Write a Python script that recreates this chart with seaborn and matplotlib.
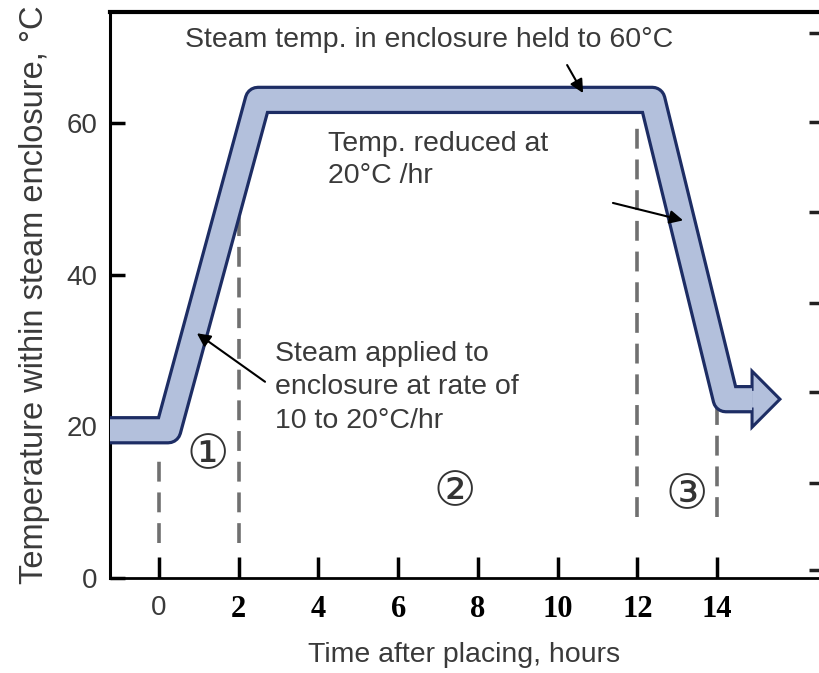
import matplotlib
matplotlib.use('Agg')
import matplotlib.pyplot as plt
import matplotlib.patheffects as pe
from matplotlib.patches import FancyArrow
import pandas as pd
import seaborn as sns

# ---- data ----
hours = [-1.5, 0.23, 2.48, 12.38, 14.22, 14.88]
temps = [19.5, 19.5, 63.1, 63.1, 23.6, 23.6]
arrow_tip_hour = 15.58
x_ticks = [0, 2, 4, 6, 8, 10, 12, 14]
y_ticks = [0, 20, 40, 60]
right_ticks = [1.1, 12.5, 24.5, 36.3, 48.3, 60.2, 71.9]
phase_hours = [0, 2, 12, 14]
phase_top = [16.2, 50.3, 59.5, 22.5]
phase_bottom = [4.6, 4.6, 8.0, 8.0]
phase_labels = ['①', '②', '③']
phase_label_x = [1.23, 7.43, 13.25]
phase_label_y = [16.2, 11.3, 10.9]

FILL = '#b3c0dc'
EDGE = '#1d2d64'
TXT = '#3a3a3a'

sns.set_theme(style='white')
plt.rcParams['font.family'] = ['Liberation Sans', 'DejaVu Sans']

fig = plt.figure(figsize=(8.19, 6.73), dpi=100)
ax = fig.add_axes([110 / 819, 95 / 673, 709 / 819, 566 / 673])
ax.set_xlim(-1.23, 16.56)
ax.set_ylim(0, 74.7)

# dashed phase boundaries
for h, lo, hi in zip(phase_hours, phase_bottom, phase_top):
    ax.plot([h, h], [lo, hi], color='#707070', lw=2.6, dashes=(5.5, 3.0), zorder=2)

# main temperature band
df = pd.DataFrame({'hours': hours, 'temp': temps})
sns.lineplot(data=df, x='hours', y='temp', ax=ax, sort=False, color=FILL,
             linewidth=15.8, zorder=4)
band = ax.lines[-1]
band.set_solid_joinstyle('round')
band.set_solid_capstyle('butt')
band.set_path_effects([pe.Stroke(linewidth=20.4, foreground=EDGE), pe.Normal()])

# arrow head at the end of the band
tail_start = hours[-1] - 0.2
ax.add_patch(FancyArrow(tail_start, temps[-1], arrow_tip_hour - tail_start, 0,
                        width=2.6, head_width=7.4, head_length=0.70,
                        length_includes_head=True, fc=FILL, ec=EDGE, lw=2.2,
                        zorder=3))

# phase labels
for lab, x, y in zip(phase_labels, phase_label_x, phase_label_y):
    ax.text(x, y, lab, ha='center', va='center', fontsize=34, color='#333333',
            family=['DejaVu Sans', 'Noto Sans CJK SC'], zorder=5)

# annotations
ap = dict(arrowstyle='-|>', color='black', lw=1.5, mutation_scale=20,
          shrinkA=0, shrinkB=0)
ax.text(0.65, 71.0, 'Steam temp. in enclosure held to 60°C', ha='left',
        va='center', fontsize=20.5, color=TXT)
ax.annotate('', xy=(10.64, 64.0), xytext=(10.24, 67.7), arrowprops=ap, zorder=6)

ax.text(4.24, 59.0, 'Temp. reduced at\n20°C /hr', ha='left', va='top',
        fontsize=20.5, color=TXT, linespacing=1.3)
ax.annotate('', xy=(13.15, 47.2), xytext=(11.39, 49.5), arrowprops=ap, zorder=6)

ax.text(2.91, 31.3, 'Steam applied to\nenclosure at rate of\n10 to 20°C/hr',
        ha='left', va='top', fontsize=20.5, color=TXT, linespacing=1.37)
ax.annotate('', xy=(0.95, 32.3), xytext=(2.66, 25.9), arrowprops=ap, zorder=6)

# axes styling
ax.set_xticks(x_ticks)
ax.set_xticklabels([str(v) for v in x_ticks])
ax.set_yticks(y_ticks)
ax.set_yticklabels([str(v) for v in y_ticks])
ax.tick_params(axis='x', direction='in', length=15, width=2.5, color='black',
               pad=12, labelsize=20, labelcolor=TXT, bottom=True)
ax.tick_params(axis='y', direction='in', length=11, width=2.5, color='black',
               pad=9, labelsize=20, labelcolor=TXT, left=True)
for lab in ax.get_xticklabels()[1:]:
    lab.set_fontfamily('Liberation Serif')
    lab.set_fontweight('bold')
    lab.set_color('black')
    lab.set_fontsize(22)

ax.set_xlabel('Time after placing, hours', fontsize=20.5, color=TXT, labelpad=13)
ax.set_ylabel('Temperature within steam enclosure, °C', fontsize=23.5, color=TXT,
              labelpad=12)

for s in ['left', 'bottom', 'top']:
    ax.spines[s].set_visible(True)
    ax.spines[s].set_color('black')
ax.spines['left'].set_linewidth(2.2)
ax.spines['bottom'].set_linewidth(2.0)
ax.spines['top'].set_linewidth(3.0)
ax.spines['right'].set_visible(False)

ax2 = ax.twinx()
ax2.set_ylim(ax.get_ylim())
ax2.set_yticks(right_ticks)
ax2.tick_params(axis='y', direction='in', length=7, width=2.5, color='#222222',
                labelright=False, right=True)
for s in ax2.spines.values():
    s.set_visible(False)
ax2.grid(False)

fig.savefig('out.png', dpi=100)
